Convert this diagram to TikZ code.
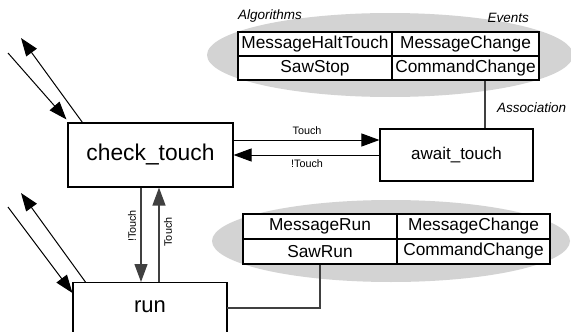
\documentclass[tikz,border=0pt]{standalone}
\usepackage{fontspec}
\setmainfont{Liberation Sans}
\usetikzlibrary{arrows.meta}
\definecolor{ellgray}{HTML}{D3D3D3}
\definecolor{conngray}{HTML}{404040}
\begin{document}
\begin{tikzpicture}[x=1pt,y=-1pt,
  box/.style={draw,line width=1.1pt,inner sep=0pt,fill=white},
  cell/.style={draw,line width=1.1pt,inner sep=0pt,fill=white,font=\fontsize{17.3}{19}\selectfont},
  conn/.style={line width=1pt,draw=black},
  vconn/.style={line width=1.2pt,draw=conngray},
  tip/.style={-{Triangle[length=18pt,width=13pt]}},
  small/.style={font=\fontsize{10.8}{12}\selectfont,inner sep=0pt},
  ital/.style={font=\itshape\fontsize{13.5}{15}\selectfont,inner sep=0pt},
  ell/.style={fill=ellgray,draw=none}]
\clip (0,0) rectangle (571,332);
\useasboundingbox (0,0) rectangle (571,332);
% ellipses
\fill[ell] (390,55) ellipse [x radius=183, y radius=42];
\fill[ell] (391,241) ellipse [x radius=179, y radius=41];
% upper table
\node[cell,minimum width=154,minimum height=24] (al1) at (315,44) {MessageHaltTouch};
\node[cell,minimum width=147,minimum height=24] (ev1) at (465.5,44) {MessageChange};
\node[cell,minimum width=154,minimum height=24] (al2) at (315,68) {SawStop};
\node[cell,minimum width=147,minimum height=24] (ev2) at (465.5,68) {CommandChange};
\node[ital,anchor=south west] (algl) at (238,23) {Algorithms};
\node[ital,anchor=south east] (evl) at (529,23) {Events};
% lower table
\node[cell,minimum width=154,minimum height=25] (bl1) at (320,226.5) {MessageRun};
\node[cell,minimum width=153,minimum height=25] (be1) at (473.5,226.5) {MessageChange};
\node[cell,minimum width=154,minimum height=25] (bl2) at (320,251.5) {SawRun};
\node[cell,minimum width=153,minimum height=25] (be2) at (473.5,251.5) {CommandChange};
% state boxes
\node[box,minimum width=165,minimum height=64,font=\fontsize{22.8}{26}\selectfont] (ct) at (150.5,155) {check\_touch};
\node[box,minimum width=153,minimum height=52,font=\fontsize{17}{20}\selectfont] (at) at (456.5,155) {await\_touch};
\node[box,minimum width=154,anchor=north,text height=30,text depth=40,font=\fontsize{22}{26}\selectfont] (run) at (150,282) {run};
% association
\draw[vconn] ([xshift=19.5pt]ev2.south) -- ([xshift=28.5pt]at.north);
\node[ital,anchor=west] (assoc) at (497,108) {Association};
\coordinate (rc) at (227,308);
\draw[vconn] (bl2.south) |- (rc);
% horizontal transitions
\draw[conn,tip] ([yshift=15pt]ct.east) -- ([yshift=15pt]at.west);
\draw[conn,tip] (at.west) -- (ct.east);
\node[small] (lt1) at (307,131) {Touch};
\node[small] (lt2) at (307,163.5) {!Touch};
% vertical transitions
\draw[vconn,tip] ([xshift=-9.5pt]ct.south) -- ([xshift=-9pt]run.north);
\draw[vconn,tip] ([xshift=9pt]run.north) -- ([xshift=8.5pt]ct.south);
\node[small,rotate=90] (lv1) at (132,226) {!Touch};
\node[small,rotate=90] (lv2) at (168,232) {Touch};
% diagonal stubs
\coordinate (d1s) at (8,53);
\coordinate (d2e) at (21,38);
\coordinate (d3s) at (8,207);
\coordinate (d4e) at (21,193);
\draw[conn,tip] (d1s) -- ([xshift=-1pt,yshift=3pt]ct.north west);
\draw[conn,tip] ([xshift=15pt]ct.north west) -- (d2e);
\draw[conn,tip] (d3s) -- ([yshift=-11pt]run.north west);
\draw[conn,tip] ([xshift=13pt]run.north west) -- (d4e);
\end{tikzpicture}
\end{document}
